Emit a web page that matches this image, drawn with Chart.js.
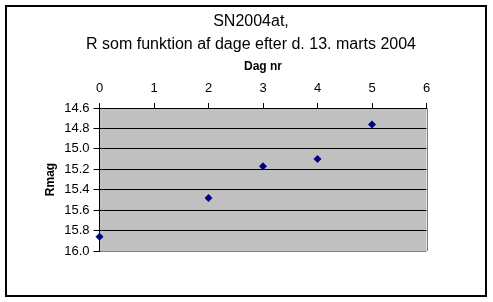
<!DOCTYPE html>
<html>
<head>
<meta charset="utf-8">
<script src="https://cdn.jsdelivr.net/npm/chart.js@4"></script>
<style>
  body { margin: 0; background: #fff; }
  #wrap { position: absolute; left: 0; top: 0; width: 493px; height: 302px; }
</style>
</head>
<body>
<div id="wrap"><canvas id="myChart" width="493" height="302"></canvas></div>
<script>
// dage efter 13. marts 2004 og R-magnitude
let dagNr = [0, 2, 3, 4, 5];
let rMag = [15.86, 15.48, 15.17, 15.10, 14.76];
let titleLines = ['SN2004at,', 'R som funktion af dage efter d. 13. marts 2004'];
let xTitle = 'Dag nr';
let yTitle = 'Rmag';

Chart.defaults.font.family = '"Liberation Sans", Arial, sans-serif';
Chart.defaults.color = '#000';

// grå plotflade, grå kant til højre og ramme om det hele
var excelLook = {
    id: 'excelLook',
    beforeDraw: function(chart) {
        var ctx = chart.ctx;
        var a = chart.chartArea;
        ctx.save();
        ctx.fillStyle = '#fff';
        ctx.fillRect(0, 0, chart.width, chart.height);
        ctx.fillStyle = '#c0c0c0';
        ctx.fillRect(a.left, a.top, a.right - a.left, a.bottom - a.top);
        ctx.restore();
    },
    afterDraw: function(chart) {
        var ctx = chart.ctx;
        var a = chart.chartArea;
        ctx.save();
        ctx.strokeStyle = '#808080';
        ctx.lineWidth = 1;
        ctx.beginPath();
        ctx.moveTo(Math.round(a.right) + 0.5, a.top);
        ctx.lineTo(Math.round(a.right) + 0.5, a.bottom);
        ctx.stroke();
        ctx.strokeStyle = '#000';
        ctx.lineWidth = 2;
        ctx.strokeRect(6, 6, 480, 290);
        ctx.restore();
    }
};

var ctx = document.getElementById('myChart').getContext('2d');
var myChart = new Chart(ctx, {
    type: 'scatter',
    data: {
        datasets: [{
            data: dagNr.map(function(d, i) { return {x: d, y: rMag[i]}; }),
            pointStyle: 'rectRot',
            pointRadius: 4,
            pointHoverRadius: 4,
            backgroundColor: '#000080',
            borderColor: '#000080',
            borderWidth: 0,
            clip: false
        }]
    },
    options: {
        responsive: false,
        animation: false,
        layout: { padding: { left: 9, right: 0, top: 0, bottom: 51 } },
        plugins: {
            legend: { display: false },
            tooltip: { enabled: false },
            title: {
                display: true,
                text: titleLines,
                color: '#000',
                font: { size: 16, weight: 'normal', lineHeight: 1.44 },
                padding: { top: 10, bottom: 0 }
            }
        },
        scales: {
            x: {
                type: 'linear',
                position: 'top',
                min: 0,
                max: 6,
                ticks: { stepSize: 1, font: { size: 13 }, padding: 7, color: '#000' },
                grid: { drawOnChartArea: false, drawTicks: true, tickLength: 5, tickColor: '#000' },
                border: { display: true, color: '#000', width: 1 },
                title: { display: true, text: xTitle, font: { size: 12, weight: 'bold' }, padding: { top: 3, bottom: 0 } },
                afterFit: function(scale) { scale.height = 52; }
            },
            y: {
                type: 'linear',
                reverse: true,
                min: 14.6,
                max: 16.0,
                ticks: {
                    stepSize: 0.2,
                    font: { size: 13 },
                    padding: 4,
                    color: '#000',
                    callback: function(v) { return Number(v).toFixed(1); }
                },
                grid: {
                    color: function(c) {
                        return (c.tick && Math.abs(c.tick.value - 16) < 1e-6) ? '#808080' : '#000';
                    },
                    tickColor: '#000',
                    tickLength: 6,
                    lineWidth: 1
                },
                border: { display: true, color: '#000', width: 1 },
                title: { display: true, text: yTitle, font: { size: 12, weight: 'bold' }, padding: { top: 34, bottom: 0 } },
                afterFit: function(scale) { scale.width = 90.5; }
            },
            // tom akse til højre, holder plads ud til kanten
            yRight: {
                type: 'linear',
                position: 'right',
                display: true,
                ticks: { display: false },
                grid: { display: false },
                border: { display: false },
                afterFit: function(scale) { scale.width = 66.5; }
            }
        }
    },
    plugins: [excelLook]
});
</script>
</body>
</html>
